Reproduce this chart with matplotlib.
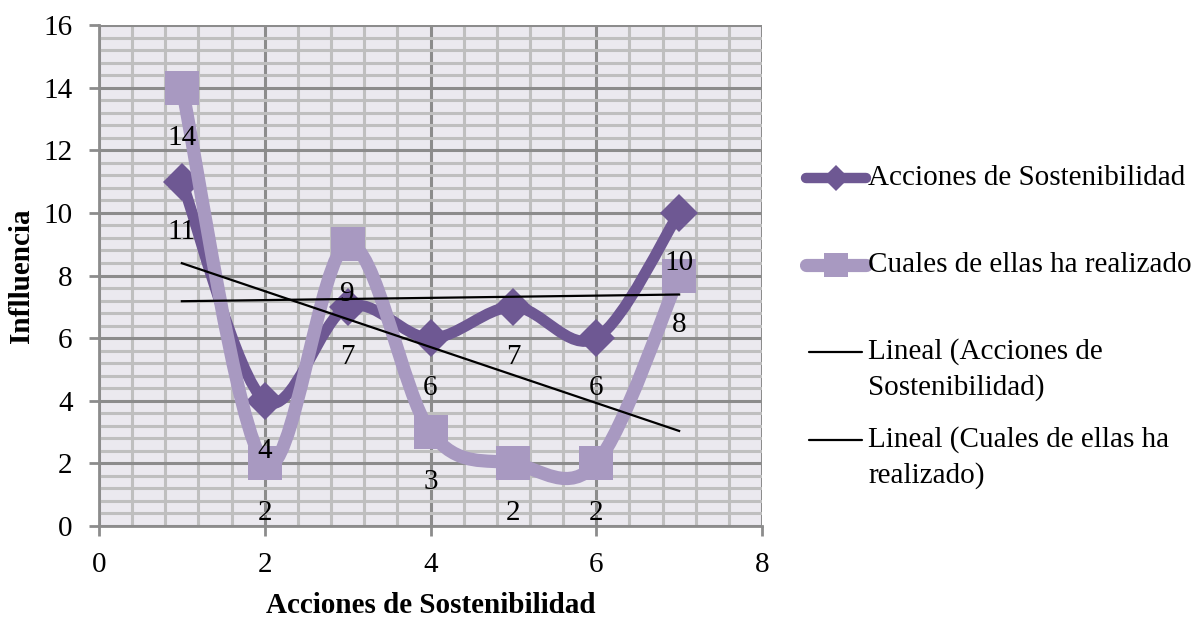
import numpy as np
import matplotlib.pyplot as plt
from matplotlib.path import Path
from matplotlib.patches import PathPatch
from matplotlib.lines import Line2D

# data
x = [1, 2, 3, 4, 5, 6, 7]
acciones = [11, 4, 7, 6, 7, 6, 10]
realizado = [14, 2, 9, 3, 2, 2, 8]
name1 = "Acciones de Sostenibilidad"
name2 = "Cuales de ellas ha realizado"
trend1 = ["Lineal (Acciones de", "Sostenibilidad)"]
trend2 = ["Lineal (Cuales de ellas ha", "realizado)"]

dark = "#6E5893"
light = "#A899C1"
font = "Liberation Serif"
fs = 21

plt.rcParams['font.family'] = [font, 'DejaVu Serif']


def smooth_path(xs, ys):
    # excel-style smoothed line as cubic bezier segments
    p = np.column_stack([xs, ys]).astype(float)
    n = len(p)
    d = np.zeros_like(p)
    d[0] = (p[1] - p[0]) / 2
    d[-1] = (p[-1] - p[-2]) / 2
    d[1:-1] = (p[2:] - p[:-2]) / 2
    verts = [p[0]]
    codes = [Path.MOVETO]
    for i in range(n - 1):
        verts += [p[i] + d[i] / 3, p[i + 1] - d[i + 1] / 3, p[i + 1]]
        codes += [Path.CURVE4] * 3
    return Path(verts, codes)


fig = plt.figure(figsize=(11.96, 6.2), dpi=100)
ax = fig.add_axes([99 / 1196, 1 - 526 / 620, (762 - 99) / 1196, (526 - 25) / 620])
ax.set_facecolor("#EBE9EF")
ax.set_xlim(0, 8)
ax.set_ylim(0, 16)
ax.set_xticks(np.arange(0, 9, 2))
ax.set_yticks(np.arange(0, 17, 2))
ax.set_xticks(np.arange(0, 8.01, 0.4), minor=True)
ax.set_yticks(np.arange(0, 16.01, 0.4), minor=True)
ax.grid(which="minor", color="#BFBFBF", lw=2.2, zorder=0)
ax.grid(which="major", color="#8C8C8C", lw=2.2, zorder=0)
ax.set_axisbelow(True)
ax.tick_params(which="minor", length=0)
ax.tick_params(which="major", direction="out", length=7, width=2, color="#8C8C8C",
               labelsize=fs)
ax.tick_params(axis="y", pad=12)
ax.tick_params(axis="x", pad=12)
for s in ["left", "bottom"]:
    ax.spines[s].set_color("#8C8C8C")
    ax.spines[s].set_linewidth(2)
for s in ["top", "right"]:
    ax.spines[s].set_visible(False)

# series 1
ax.add_patch(PathPatch(smooth_path(x, acciones), fill=False, ec=dark, lw=8,
                       capstyle="round", joinstyle="round", zorder=3))
ax.plot(x, acciones, ls="none", marker="D", ms=19, mew=0, color=dark, zorder=3)
# series 2
ax.add_patch(PathPatch(smooth_path(x, realizado), fill=False, ec=light, lw=9.5,
                       capstyle="round", joinstyle="round", zorder=4))
ax.plot(x, realizado, ls="none", marker="s", ms=24, mew=0, color=light, zorder=4)

# linear trends
xt = np.array([x[0], x[-1]])
for ys in [acciones, realizado]:
    k, b = np.polyfit(x, ys, 1)
    ax.plot(xt, k * xt + b, color="black", lw=1.6, zorder=5)

# data labels below the points
for ys in [acciones, realizado]:
    for xi, yi in zip(x, ys):
        ax.annotate(str(yi), (xi, yi), xytext=(0, -36), textcoords="offset points",
                    ha="center", va="center", fontsize=fs, zorder=6)

ax.set_xlabel(name1, fontsize=fs, fontweight="bold", labelpad=10)
ax.set_ylabel("Inflluencia", fontsize=fs, fontweight="bold", labelpad=6)


# legend drawn by hand to match the layout
def fx(px):
    return px / 1196


def fy(py):
    return 1 - py / 620


entries = [
    ([name1], dict(color=dark, lw=7.5), "D", 13, 806, 866, 178),
    ([name2], dict(color=light, lw=9.5), "s", 17, 806, 866, 265),
    (trend1, dict(color="black", lw=1.6), None, 0, 809, 862, 352),
    (trend2, dict(color="black", lw=1.6), None, 0, 809, 862, 440),
]
for lines, style, mk, ms, x0, x1, yy in entries:
    fig.add_artist(Line2D([fx(x0), fx(x1)], [fy(yy), fy(yy)], transform=fig.transFigure,
                          solid_capstyle="round", **style))
    if mk:
        fig.add_artist(Line2D([fx((x0 + x1) / 2)], [fy(yy)], transform=fig.transFigure,
                              ls="none", marker=mk, ms=ms, mew=0, color=style["color"]))
    for j, t in enumerate(lines):
        fig.text(fx(868), fy(yy + 36 * j), t, fontsize=fs, va="center", ha="left")

fig.savefig("out.png", dpi=100)
